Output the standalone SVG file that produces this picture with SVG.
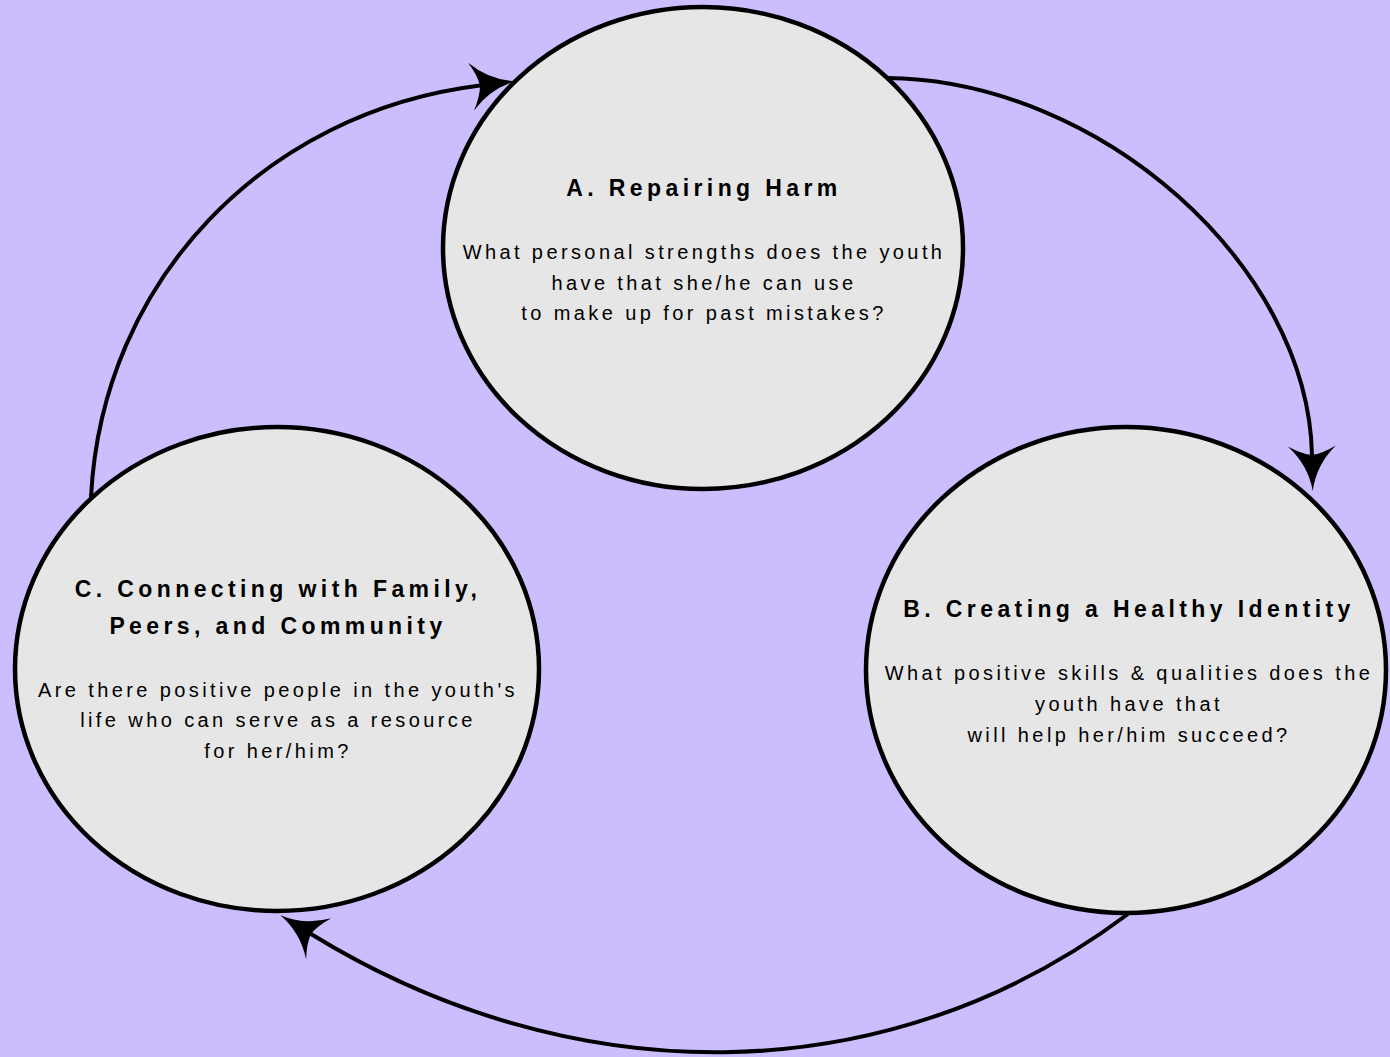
<svg xmlns="http://www.w3.org/2000/svg" width="1390" height="1057" viewBox="0 0 1390 1057">
  <style>
    .bubble { fill: #E6E6E6; stroke: #000; stroke-width: 4.5; }
    .title { font-family: "Liberation Sans", Arial, sans-serif; font-size: 23px; font-weight: bold; letter-spacing: 4.4px; fill: #000; text-anchor: middle; }
    .body { font-family: "Liberation Sans", Arial, sans-serif; font-size: 20px; letter-spacing: 3.4px; fill: #000; text-anchor: middle; }
    .flow { fill: none; stroke: #000; stroke-width: 4; marker-end: url(#head); }
  </style>
  <defs>
    <!-- concave arrowhead; origin sits at the notch, tip points along +x -->
    <marker id="head" markerUnits="userSpaceOnUse" orient="auto" refX="0" refY="0" markerWidth="60" markerHeight="60" viewBox="-15 -30 60 60" overflow="visible">
      <path d="M36,0 Q10,-4 -9,-24 Q-1,-10 0,0 Q-1,10 -9,24 Q10,4 36,0 Z" fill="#000"/>
    </marker>
  </defs>

  <rect x="0" y="0" width="1390" height="1057" fill="#CBBDFE"/>

  <g id="node-a">
    <ellipse class="bubble" cx="703" cy="248" rx="260" ry="241"/>
    <text class="title" x="704" y="196">A. Repairing Harm</text>
    <text class="body" x="704" y="259">What personal strengths does the youth</text>
    <text class="body" x="704" y="290">have that she/he can use</text>
    <text class="body" x="704" y="320">to make up for past mistakes?</text>
  </g>

  <g id="node-b">
    <ellipse class="bubble" cx="1126" cy="670" rx="260" ry="243"/>
    <text class="title" x="1129" y="617">B. Creating a Healthy Identity</text>
    <text class="body" x="1129" y="680">What positive skills &amp; qualities does the</text>
    <text class="body" x="1129" y="711">youth have that</text>
    <text class="body" x="1129" y="742">will help her/him succeed?</text>
  </g>

  <g id="node-c">
    <ellipse class="bubble" cx="277" cy="669" rx="262" ry="242"/>
    <text class="title" x="278" y="597">C. Connecting with Family,</text>
    <text class="title" x="278" y="634">Peers, and Community</text>
    <text class="body" x="278" y="697">Are there positive people in the youth's</text>
    <text class="body" x="278" y="727">life who can serve as a resource</text>
    <text class="body" x="278" y="758">for her/him?</text>
  </g>

  <g id="connectors">
    <path class="flow" d="M887,78 C1100,80 1308,265 1312,455"/>
    <path class="flow" d="M1128,914 C883,1098 568,1092 311,934"/>
    <path class="flow" d="M91,497 C102,280 265,112 480,85.5"/>
  </g>
</svg>
